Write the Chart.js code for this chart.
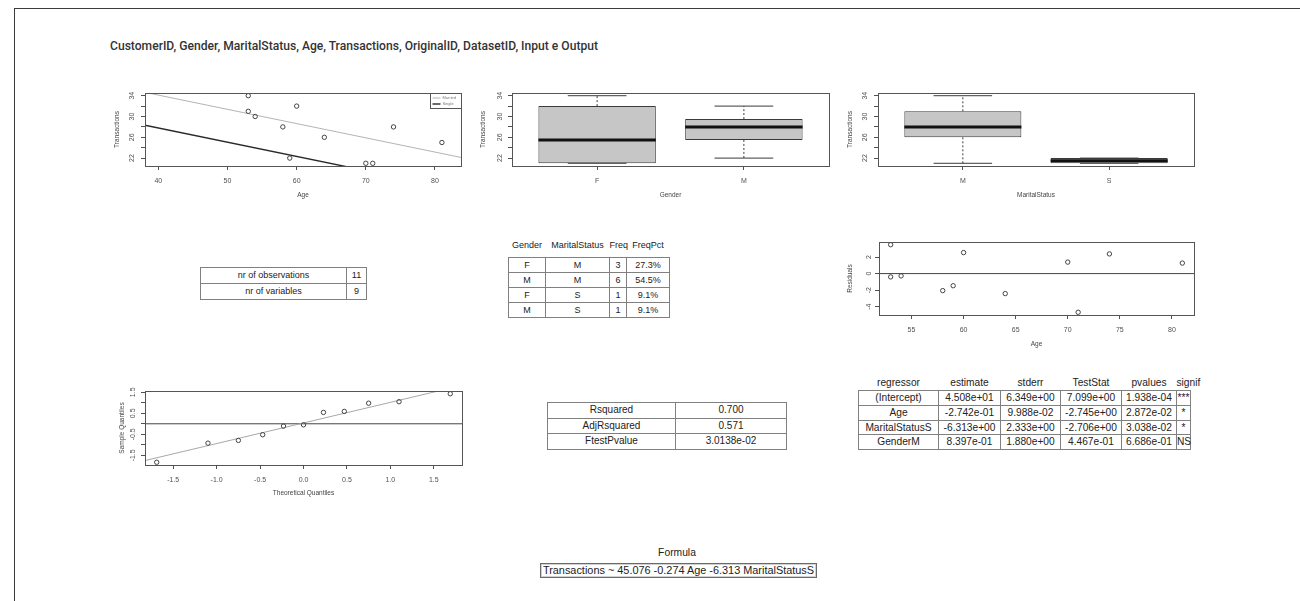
<!DOCTYPE html>
<html><head><meta charset="utf-8">
<script src="https://cdn.jsdelivr.net/npm/chart.js@4.4.1/dist/chart.umd.min.js"></script>
<style>
html,body{margin:0;padding:0;background:#fff;}
body{width:1300px;height:601px;position:relative;overflow:hidden;font-family:"Liberation Sans",Arial,sans-serif;}
#frame{position:absolute;left:14px;top:8px;width:1300px;height:620px;border-top:1.5px solid #3a3a3a;border-left:1.5px solid #3a3a3a;}
#title{position:absolute;left:110px;top:40px;font-family:Roboto,sans-serif;font-weight:500;font-size:12.5px;line-height:1;color:#333;white-space:nowrap;transform-origin:0 0;}
canvas{position:absolute;}
table.rt{position:absolute;border-collapse:collapse;table-layout:fixed;color:#222;}
table.rt td{border:1px solid #808080;text-align:center;padding:0;white-space:nowrap;overflow:visible;}
table.rt th{font-weight:normal;text-align:center;padding:0;white-space:nowrap;border:none;}
.lbl{position:absolute;font-size:10.3px;color:#222;text-align:center;white-space:nowrap;}
#formulaBox{position:absolute;left:540px;top:563px;width:275px;height:13px;line-height:13px;border:1px solid #6a6a6a;box-shadow:0 0 0 1px #d0d0d0 inset;font-size:10.9px;color:#222;text-align:center;white-space:nowrap;}
</style></head><body>
<div id="frame"></div>
<div id="title"></div>
<canvas id="cScatter"></canvas>
<canvas id="cGender"></canvas>
<canvas id="cMarital"></canvas>
<canvas id="cResid"></canvas>
<canvas id="cQQ"></canvas>
<div id="tables"></div>
<div class="lbl" id="formulaTitle" style="left:577px;top:547px;width:200px;">Formula</div>
<div id="formulaBox"></div>
<script>
// ---------------- data ----------------
const titleText = "CustomerID, Gender, MaritalStatus, Age, Transactions, OriginalID, DatasetID, Input e Output";
const ages = [53, 53, 54, 58, 59, 60, 64, 70, 71, 74, 81];
const transactions = [34, 31, 30, 28, 22, 32, 26, 21, 21, 28, 25];
const coefIntercept = 45.076;
const coefAge = -0.274;
const coefSingle = -6.313;
const lineLabels = ["Married", "Single"];

const boxPositions = [1, 2];
const genderCats = ["F", "M"];
const genderLow = [21, 22];
const genderQ1 = [21, 25.5];
const genderMed = [25.5, 28];
const genderQ3 = [32, 29.5];
const genderHigh = [34, 32];

const maritalCats = ["M", "S"];
const maritalLow = [21, 21];
const maritalQ1 = [26, 21];
const maritalMed = [28, 21.5];
const maritalQ3 = [31, 22];
const maritalHigh = [34, 22];

const residuals = [3.49, -0.40, -0.28, -2.06, -1.47, 2.54, -2.42, 1.39, -4.68, 2.38, 1.27];

const theoQuantiles = [-1.69, -1.10, -0.75, -0.47, -0.23, 0, 0.23, 0.47, 0.75, 1.10, 1.69];
const sampleQuantiles = [-1.83, -0.92, -0.79, -0.52, -0.11, -0.05, 0.54, 0.59, 0.98, 1.05, 1.43];
const qqIntercept = 0.04;
const qqSlope = 0.98;

const ageTicks = [40, 50, 60, 70, 80];
const ageTickLabels = ["40", "50", "60", "70", "80"];
const transTicks = [22, 24, 26, 28, 30, 32, 34];
const transTickLabels = ["22", "", "26", "", "30", "", "34"];
const residAgeTicks = [55, 60, 65, 70, 75, 80];
const residAgeTickLabels = ["55", "60", "65", "70", "75", "80"];
const residTicks = [-4, -2, 0, 2];
const residTickLabels = ["-4", "-2", "0", "2"];
const qqTicks = [-1.5, -1, -0.5, 0, 0.5, 1, 1.5];
const qqXTickLabels = ["-1.5", "-1.0", "-0.5", "0.0", "0.5", "1.0", "1.5"];
const qqYTickLabels = ["-1.5", "", "-0.5", "", "0.5", "", "1.5"];

const summaryLabels = ["nr of observations", "nr of variables"];
const summaryValues = ["11", "9"];

const freqHeader = ["Gender", "MaritalStatus", "Freq", "FreqPct"];
const freqGender = ["F", "M", "F", "M"];
const freqMarital = ["M", "M", "S", "S"];
const freqCount = ["3", "6", "1", "1"];
const freqPct = ["27.3%", "54.5%", "9.1%", "9.1%"];

const fitStatNames = ["Rsquared", "AdjRsquared", "FtestPvalue"];
const fitStatValues = ["0.700", "0.571", "3.0138e-02"];

const regHeader = ["regressor", "estimate", "stderr", "TestStat", "pvalues", "signif"];
const regNames = ["(Intercept)", "Age", "MaritalStatusS", "GenderM"];
const regEstimate = ["4.508e+01", "-2.742e-01", "-6.313e+00", "8.397e-01"];
const regStderr = ["6.349e+00", "9.988e-02", "2.333e+00", "1.880e+00"];
const regTestStat = ["7.099e+00", "-2.745e+00", "-2.706e+00", "4.467e-01"];
const regPvalues = ["1.938e-04", "2.872e-02", "3.038e-02", "6.686e-01"];
const regSignif = ["***", "*", "*", "NS"];

const formulaText = "Transactions ~ 45.076 -0.274 Age -6.313 MaritalStatusS";

// ---------------- text ----------------
const tEl = document.getElementById('title');
tEl.textContent = titleText;
const tw = tEl.getBoundingClientRect().width;
tEl.style.transform = 'scaleX(' + (488 / tw) + ')';
document.getElementById('formulaBox').textContent = formulaText;

// ---------------- plugins ----------------
const AXIS_COLOR = '#505050';
const rFrame = {
  id: 'rFrame',
  afterDraw(chart) {
    const a = chart.chartArea, ctx = chart.ctx;
    ctx.save();
    ctx.strokeStyle = '#555';
    ctx.lineWidth = 1;
    ctx.strokeRect(Math.round(a.left) + 0.5, Math.round(a.top) + 0.5,
                   Math.round(a.right - a.left), Math.round(a.bottom - a.top));
    ctx.restore();
  }
};
const rYLabels = {
  id: 'rYLabels',
  afterDraw(chart, args, opts) {
    const s = chart.scales.y, ctx = chart.ctx;
    ctx.save();
    ctx.fillStyle = AXIS_COLOR;
    ctx.font = '7px "Liberation Sans", Arial, sans-serif';
    ctx.textAlign = 'center';
    ctx.textBaseline = 'middle';
    s.ticks.forEach(t => {
      if (!t.label) return;
      const y = s.getPixelForValue(t.value);
      ctx.save();
      ctx.translate(chart.chartArea.left - opts.offset, y);
      ctx.rotate(-Math.PI / 2);
      ctx.fillText(t.label, 0, 0);
      ctx.restore();
    });
    ctx.restore();
  }
};
const rLegend = {
  id: 'rLegend',
  afterDraw(chart, args, opts) {
    if (!opts || !opts.show) return;
    const a = chart.chartArea, ctx = chart.ctx;
    const items = chart.data.datasets.filter(d => d.legendEntry);
    const w = 31, h = 15;
    const x = Math.round(a.right - w) + 0.5, y = Math.round(a.top) + 0.5;
    ctx.save();
    ctx.fillStyle = '#fff';
    ctx.fillRect(x, y, w, h);
    ctx.strokeStyle = '#555';
    ctx.lineWidth = 1;
    ctx.strokeRect(x, y, w, h);
    ctx.font = '4px "Liberation Sans", Arial, sans-serif';
    ctx.textBaseline = 'middle';
    items.forEach((d, i) => {
      const yy = y + 4.5 + i * 6;
      ctx.strokeStyle = d.borderColor;
      ctx.lineWidth = d.borderWidth;
      ctx.beginPath(); ctx.moveTo(x + 2, yy); ctx.lineTo(x + 10, yy); ctx.stroke();
      ctx.fillStyle = '#777';
      ctx.fillText(d.label, x + 12, yy);
    });
    ctx.restore();
  }
};

// ---------------- chart builder ----------------
function makeChart(id, g, cfg) {
  const left = Math.round(g.yTitleX - 3.9), top = g.plotTop - 8;
  const right = g.plotRight + 8, bottom = Math.round(g.xTitleY + 3.9);
  const cv = document.getElementById(id);
  cv.width = right - left; cv.height = bottom - top;
  cv.style.left = left + 'px'; cv.style.top = top + 'px';
  cv.style.width = (right - left) + 'px'; cv.style.height = (bottom - top) + 'px';
  const yW = g.plotLeft - left, xH = bottom - g.plotBottom;
  const gridOpts = {display: true, drawOnChartArea: false, drawTicks: true, tickLength: 4, color: AXIS_COLOR, offset: false};
  const titleFont = {size: 6.5, family: '"Liberation Sans", Arial, sans-serif'};
  return new Chart(cv, {
    type: cfg.type,
    data: {datasets: cfg.datasets},
    options: {
      responsive: false, animation: false, events: [],
      devicePixelRatio: 1,
      layout: {padding: {top: 8, right: 8, left: 0, bottom: 0}},
      plugins: {legend: {display: false}, tooltip: {enabled: false},
                rYLabels: {offset: g.yLabOff}, rLegend: {show: !!cfg.legend}},
      scales: {
        x: {type: 'linear', min: cfg.xMin, max: cfg.xMax, offset: false, bounds: 'data',
            afterBuildTicks: s => { s.ticks = cfg.xTicks.map(v => ({value: v})); },
            afterFit: s => { s.height = xH; },
            ticks: {autoSkip: false, maxRotation: 0, minRotation: 0, padding: 7, color: AXIS_COLOR,
                    font: {size: 7, family: '"Liberation Sans", Arial, sans-serif'},
                    callback: (v, i) => cfg.xLabels[i]},
            grid: gridOpts, border: {display: false},
            title: {display: true, text: cfg.xTitle, color: '#444', font: titleFont, padding: 0}},
        y: {type: 'linear', min: cfg.yMin, max: cfg.yMax, beginAtZero: false, bounds: 'data',
            afterBuildTicks: s => { s.ticks = cfg.yTicks.map(v => ({value: v})); },
            afterFit: s => { s.width = yW; },
            ticks: {autoSkip: false, color: 'rgba(0,0,0,0)', font: {size: 7},
                    callback: (v, i) => cfg.yLabels[i]},
            grid: gridOpts, border: {display: false},
            title: {display: true, text: cfg.yTitle, color: '#444', font: titleFont, padding: 0}}
      }
    },
    plugins: [rFrame, rYLabels, rLegend]
  });
}

function pointsDataset(xs, ys) {
  return {type: 'scatter', data: xs.map((x, i) => ({x: x, y: ys[i]})), showLine: false,
          pointRadius: 2.2, pointBorderWidth: 1, pointBorderColor: '#444',
          pointBackgroundColor: 'rgba(0,0,0,0)', order: 1};
}
function lineDataset(pts, color, width, extra) {
  return Object.assign({type: 'line', data: pts, borderColor: color, borderWidth: width,
          pointRadius: 0, fill: false, tension: 0, showLine: true, order: 2}, extra || {});
}

// ---------------- scatter with fitted lines ----------------
const sXmin = 38.07, sXmax = 83.76, tYmin = 20.48, tYmax = 34.52;
const fitLine = (shift) => [sXmin, sXmax].map(x => ({x: x, y: coefIntercept + shift + coefAge * x}));
makeChart('cScatter',
  {plotLeft: 145, plotTop: 93, plotRight: 461, plotBottom: 166, yTitleX: 117, xTitleY: 195, yLabOff: 13},
  {type: 'scatter', legend: true,
   datasets: [
     pointsDataset(ages, transactions),
     lineDataset(fitLine(0), '#b4b4b4', 1, {label: lineLabels[0], legendEntry: true}),
     lineDataset(fitLine(coefSingle), '#2a2a2a', 1.4, {label: lineLabels[1], legendEntry: true})
   ],
   xMin: sXmin, xMax: sXmax, xTicks: ageTicks, xLabels: ageTickLabels, xTitle: 'Age',
   yMin: tYmin, yMax: tYmax, yTicks: transTicks, yLabels: transTickLabels, yTitle: 'Transactions'});

// ---------------- box plots ----------------
const BOX_HALF = 0.4, CAP_HALF = 0.2;
function boxDatasets(low, q1, med, q3, high) {
  const whisk = [], caps = [], meds = [];
  boxPositions.forEach((x, i) => {
    whisk.push({x: x, y: q3[i]}, {x: x, y: high[i]}, {x: x, y: null},
               {x: x, y: q1[i]}, {x: x, y: low[i]}, {x: x, y: null});
    caps.push({x: x - CAP_HALF, y: high[i]}, {x: x + CAP_HALF, y: high[i]}, {x: x, y: null},
              {x: x - CAP_HALF, y: low[i]}, {x: x + CAP_HALF, y: low[i]}, {x: x, y: null});
    meds.push({x: x - BOX_HALF, y: med[i]}, {x: x + BOX_HALF, y: med[i]}, {x: x, y: null});
  });
  return [
    lineDataset(whisk, '#3a3a3a', 1, {borderDash: [2, 2], order: 5}),
    lineDataset(caps, '#3a3a3a', 1, {order: 4}),
    {type: 'bar', data: boxPositions.map((x, i) => ({x: x, y: [q1[i], q3[i]]})),
     backgroundColor: '#c6c6c6', borderColor: '#3a3a3a', borderWidth: 1, borderSkipped: false,
     barPercentage: 2 * BOX_HALF, categoryPercentage: 1, order: 3},
    lineDataset(meds, '#111', 3, {order: 1})
  ];
}
const boxGeom = {xMin: 0.42, xMax: 2.58, xTicks: boxPositions,
                 yMin: tYmin, yMax: tYmax, yTicks: transTicks, yLabels: transTickLabels, yTitle: 'Transactions'};
makeChart('cGender',
  {plotLeft: 512, plotTop: 93, plotRight: 829, plotBottom: 166, yTitleX: 483, xTitleY: 195, yLabOff: 12},
  Object.assign({type: 'bar', datasets: boxDatasets(genderLow, genderQ1, genderMed, genderQ3, genderHigh),
                 xLabels: genderCats, xTitle: 'Gender'}, boxGeom));
makeChart('cMarital',
  {plotLeft: 878, plotTop: 93, plotRight: 1194, plotBottom: 166, yTitleX: 850, xTitleY: 195, yLabOff: 13},
  Object.assign({type: 'bar', datasets: boxDatasets(maritalLow, maritalQ1, maritalMed, maritalQ3, maritalHigh),
                 xLabels: maritalCats, xTitle: 'MaritalStatus'}, boxGeom));

// ---------------- residuals ----------------
const rXmin = 51.88, rXmax = 82.12;
makeChart('cResid',
  {plotLeft: 879, plotTop: 242, plotRight: 1194, plotBottom: 315, yTitleX: 850, xTitleY: 344, yLabOff: 10},
  {type: 'scatter',
   datasets: [
     pointsDataset(ages, residuals),
     lineDataset([rXmin, rXmax].map(x => ({x: x, y: 0})), '#444', 1)
   ],
   xMin: rXmin, xMax: rXmax, xTicks: residAgeTicks, xLabels: residAgeTickLabels, xTitle: 'Age',
   yMin: -5.01, yMax: 3.82, yTicks: residTicks, yLabels: residTickLabels, yTitle: 'Residuals'});

// ---------------- QQ plot ----------------
const qXmin = -1.825, qXmax = 1.825;
makeChart('cQQ',
  {plotLeft: 145, plotTop: 391, plotRight: 462, plotBottom: 465, yTitleX: 122, xTitleY: 493, yLabOff: 12},
  {type: 'scatter',
   datasets: [
     pointsDataset(theoQuantiles, sampleQuantiles),
     lineDataset([qXmin, qXmax].map(x => ({x: x, y: qqIntercept + qqSlope * x})), '#a8a8a8', 1),
     lineDataset([qXmin, qXmax].map(x => ({x: x, y: 0})), '#444', 1)
   ],
   xMin: qXmin, xMax: qXmax, xTicks: qqTicks, xLabels: qqXTickLabels, xTitle: 'Theoretical Quantiles',
   yMin: -1.96, yMax: 1.56, yTicks: qqTicks, yLabels: qqYTickLabels, yTitle: 'Sample Quantiles'});

// ---------------- tables ----------------
function buildTable(o) {
  let h = '<table class="rt" style="font-size:' + o.font + 'px;left:' + o.left + 'px;top:' + o.top + 'px;width:' +
          o.widths.reduce((a, b) => a + b, 0) + 'px">';
  h += o.widths.map(w => '<col style="width:' + w + 'px">').join('');
  if (o.header) {
    h += '<tr style="height:' + o.headH + 'px">' + o.header.map(c =>
      '<th style="vertical-align:top;line-height:' + o.headLH + 'px">' + c + '</th>').join('') + '</tr>';
  }
  o.rows.forEach(r => {
    h += '<tr>' + r.map(c => '<td style="height:' + o.rowH + 'px;line-height:' + o.rowH + 'px">' + c + '</td>').join('') + '</tr>';
  });
  return h + '</table>';
}
const zip = (...cols) => cols[0].map((_, i) => cols.map(c => c[i]));
document.getElementById('tables').innerHTML =
  buildTable({font: 9, left: 200, top: 267, widths: [146, 20], rowH: 15, rows: zip(summaryLabels, summaryValues)}) +
  buildTable({font: 9, left: 508, top: 236, widths: [37, 64, 17, 43], rowH: 14, header: freqHeader, headH: 21, headLH: 18,
              rows: zip(freqGender, freqMarital, freqCount, freqPct)}) +
  buildTable({font: 10, left: 547, top: 402, widths: [128, 111], rowH: 14.6, rows: zip(fitStatNames, fitStatValues)}) +
  buildTable({font: 10.2, left: 858, top: 376, widths: [80, 62, 60, 61, 55, 14], rowH: 13.8, header: regHeader, headH: 14, headLH: 14,
              rows: zip(regNames, regEstimate, regStderr, regTestStat, regPvalues, regSignif)});
</script>
</body></html>
